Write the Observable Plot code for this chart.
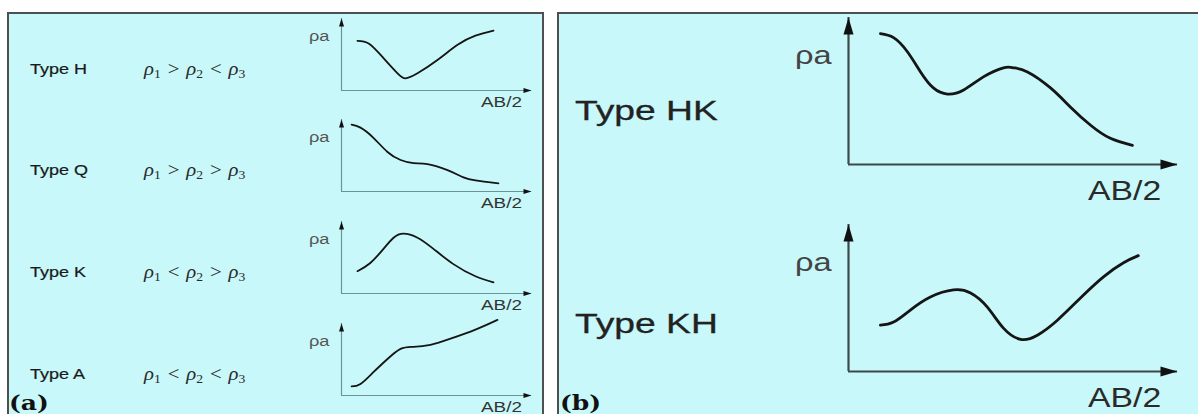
<!DOCTYPE html>
<html><head><meta charset="utf-8">
<script src="https://cdn.jsdelivr.net/npm/d3@7"></script>
<script src="https://cdn.jsdelivr.net/npm/@observablehq/plot@0.6"></script>
<style>
html,body{margin:0;padding:0;background:#fff;}
#root{position:relative;width:1198px;height:414px;overflow:hidden;background:#fff;font-family:"Liberation Sans",Arial,sans-serif;color:#222;}
.panel{position:absolute;background:#c8f8f9;border:2px solid #4e5050;border-bottom:none;box-sizing:border-box;}
.t{position:absolute;white-space:nowrap;transform-origin:0 50%;line-height:1;}
.f{font-family:"Liberation Serif","DejaVu Serif",serif;font-size:18px;color:#2a2a2a;}
.f i{font-style:italic;}
.f sub{font-size:66%;vertical-align:-0.28em;line-height:0;}
.f .op{display:inline-block;margin:0 6px;}
.lab{font-family:"DejaVu Serif","Liberation Serif",serif;font-weight:bold;font-size:20px;color:#111;}
</style></head><body><div id="root"></div>
<script>
// ---------- data ----------
const leftTypes = ["Type H", "Type Q", "Type K", "Type A"];
const leftRelations = [[">", "<"], [">", ">"], ["<", ">"], ["<", "<"]];
const rightTypes = ["Type HK", "Type KH"];
const yLabel = "ρa";
const xLabel = "AB/2";
const panelLabels = ["(a)", "(b)"];
const axisDomain = [0, 10];

// curves: AB/2 (relative units) vs apparent resistivity (relative units)
const H_ab = [0.84, 1.45, 2.21, 2.95, 3.37, 4.0, 5.05, 6.11, 7.05, 8.0];
const H_rho = [6.9, 6.5, 4.51, 2.39, 1.69, 2.39, 4.23, 6.34, 7.61, 8.31];
const Q_ab = [0.53, 1.0, 1.68, 2.42, 3.11, 3.79, 4.53, 5.58, 6.42, 7.05, 8.26];
const Q_rho = [9.3, 8.87, 7.46, 5.49, 4.37, 3.94, 3.8, 2.96, 1.97, 1.55, 1.13];
const K_ab = [0.84, 1.5, 2.21, 2.74, 3.26, 4.0, 4.84, 5.89, 7.05, 8.0];
const K_rho = [3.1, 4.2, 6.2, 7.75, 8.31, 7.75, 6.2, 4.08, 2.39, 1.55];
const A_ab = [0.53, 1.0, 1.68, 2.42, 3.11, 3.79, 4.68, 5.74, 7.05, 8.21];
const A_rho = [1.27, 1.6, 3.24, 5.07, 6.48, 6.76, 7.04, 7.89, 9.15, 10.5];
const HK_ab = [0.97, 1.37, 1.79, 2.19, 2.58, 3.01, 3.5, 4.1, 4.71, 5.02, 5.44, 6.14, 6.75, 7.36, 7.96, 8.63];
const HK_rho = [8.9, 8.63, 7.67, 6.3, 5.21, 4.79, 5.07, 5.96, 6.58, 6.58, 6.3, 5.21, 3.9, 2.67, 1.78, 1.3];
const KH_ab = [0.97, 1.37, 1.88, 2.49, 3.19, 3.71, 4.22, 4.71, 5.23, 5.74, 6.35, 7.05, 7.75, 8.36, 8.81];
const KH_rho = [3.15, 3.36, 4.18, 5.07, 5.55, 5.34, 4.38, 2.95, 2.19, 2.47, 3.49, 5.0, 6.44, 7.4, 7.88];

const leftCurves = [[H_ab, H_rho], [Q_ab, Q_rho], [K_ab, K_rho], [A_ab, A_rho]];
const rightCurves = [[HK_ab, HK_rho], [KH_ab, KH_rho]];

// ---------- layout ----------
const root = document.getElementById("root");
function addDiv(cls, html, left, top, css) {
  const d = document.createElement("div");
  d.className = cls;
  d.innerHTML = html;
  d.style.left = left + "px";
  d.style.top = top + "px";
  Object.assign(d.style, css || {});
  root.appendChild(d);
  return d;
}
addDiv("panel", "", 7, 12, {width: "537px", height: "420px"});
addDiv("panel", "", 557, 12, {width: "660px", height: "420px"});

function arrowHead(len, wid) {
  return {draw(ctx) { ctx.moveTo(0, 0); ctx.lineTo(wid / 2, len); ctx.lineTo(-wid / 2, len); ctx.closePath(); }};
}

function mini(ab, rho, ox, oy, w, h, st) {
  const m = 14;
  const data = ab.map((x, i) => ({x, y: rho[i]}));
  const [d0, d1] = axisDomain;
  const plot = Plot.plot({
    width: w + 2 * m, height: h + 2 * m,
    marginLeft: m, marginRight: m, marginTop: m, marginBottom: m,
    x: {domain: axisDomain, axis: null},
    y: {domain: axisDomain, axis: null},
    style: {background: "transparent", overflow: "visible", position: "absolute", left: (ox - m) + "px", top: (oy - h - m) + "px", maxWidth: "none"},
    marks: [
      Plot.ruleY([{y: d0, x1: d0, x2: d1}], {y: "y", x1: "x1", x2: "x2", stroke: st.axis, strokeWidth: st.aw}),
      Plot.ruleX([{x: d0, y1: d0, y2: d1}], {x: "x", y1: "y1", y2: "y2", stroke: st.axis, strokeWidth: st.aw}),
      Plot.dot([{x: d1, y: d0}], {x: "x", y: "y", symbol: arrowHead(st.hl, st.hw), rotate: 90, fill: "#111", stroke: "none"}),
      Plot.dot([{x: d0, y: d1}], {x: "x", y: "y", symbol: arrowHead(st.hl, st.hw), rotate: 0, fill: "#111", stroke: "none"}),
      Plot.line(data, {x: "x", y: "y", curve: "natural", stroke: "#151515", strokeWidth: st.cw, strokeLinecap: "round"})
    ]
  });
  root.appendChild(plot);
}

const leftStyle = {axis: "#6a9597", aw: 1.2, hl: 8, hw: 5, cw: 1.8};
const rightStyle = {axis: "#3e4848", aw: 2.2, hl: 17, hw: 10, cw: 2.8};

const leftOrigins = [90, 191, 293, 395];
leftTypes.forEach((t, i) => {
  const oy = leftOrigins[i];
  mini(leftCurves[i][0], leftCurves[i][1], 341, oy, 190, 72, leftStyle);
  addDiv("t", t, 30, oy - 22, {fontSize: "15px", color: "#1a1a1a", webkitTextStroke: "0.2px #1a1a1a", transform: "translateY(-50%) scaleX(1.2)"});
  const [r1, r2] = leftRelations[i];
  const rel = `<i>ρ</i><sub>1</sub><span class="op">${r1 === ">" ? "&gt;" : "&lt;"}</span><i>ρ</i><sub>2</sub><span class="op">${r2 === ">" ? "&gt;" : "&lt;"}</span><i>ρ</i><sub>3</sub>`;
  addDiv("t f", rel, 144, oy - 21, {transform: "translateY(-50%) scaleX(1.15)"});
  addDiv("t", yLabel, 309, oy - 54, {fontSize: "14px", color: "#555", transform: "translateY(-50%) scaleX(1.3)"});
  addDiv("t", xLabel, 481, oy + 12, {fontSize: "14px", color: "#333", transform: "translateY(-50%) scaleX(1.35)"});
});

const rightOrigins = [164, 371];
const rightTypeY = [111, 324];
rightTypes.forEach((t, i) => {
  const oy = rightOrigins[i];
  mini(rightCurves[i][0], rightCurves[i][1], 848, oy, 329, 147, rightStyle);
  addDiv("t", t, 575, rightTypeY[i], {fontSize: "28px", color: "#222", webkitTextStroke: "0.3px #222", transform: "translateY(-50%) scaleX(1.33)"});
  addDiv("t", yLabel, 795, oy - 109, {fontSize: "25px", color: "#444", transform: "translateY(-50%) scaleX(1.3)"});
  addDiv("t", xLabel, 1088, oy + 27, {fontSize: "27px", color: "#2a2a2a", transform: "translateY(-50%) scaleX(1.25)"});
});

addDiv("t lab", panelLabels[0], 9, 403, {transform: "translateY(-50%) scaleX(1.25)"});
addDiv("t lab", panelLabels[1], 560, 403, {transform: "translateY(-50%) scaleX(1.25)"});
</script>
</body></html>
